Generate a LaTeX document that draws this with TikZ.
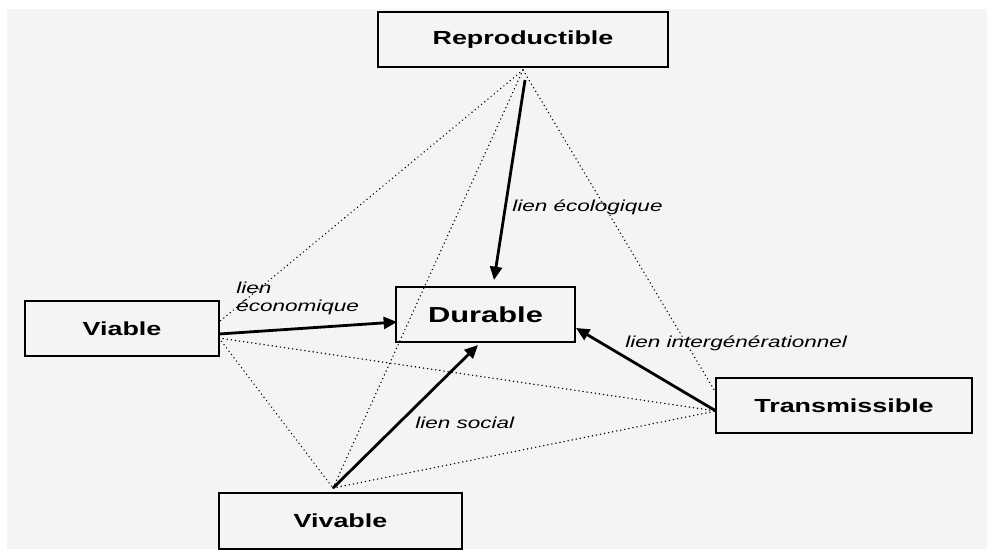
\documentclass[tikz,border=0pt]{standalone}
\usepackage{fontspec}
\newfontfamily\diafont[FakeStretch=1.42]{Liberation Sans}
\usetikzlibrary{arrows.meta}
\tikzset{
  box/.style={draw=black, line width=1.3pt, inner sep=0pt, font=\diafont\bfseries\fontsize{14.2}{16}\selectfont},
  bigbox/.style={draw=black, line width=2.2pt, inner sep=0pt, font=\diafont\bfseries\fontsize{16.3}{18}\selectfont},
  lnk/.style={line width=2.1pt, -{Triangle[length=10pt,width=9pt]}},
  dot/.style={line width=1.1pt, dash pattern=on 0.1pt off 3pt, line cap=round},
  lbl/.style={font=\diafont\itshape\fontsize{11.9}{13.5}\selectfont, inner sep=0pt}
}
\begin{document}
\begin{tikzpicture}[x=0.75pt, y=-0.75pt]
\fill[white] (0,0) rectangle (987,549);
\fill[gray!9] (7,9) rectangle (987,549);
\useasboundingbox (0,0) rectangle (987,549);

% boxes
\node[box, minimum width=217.5pt, minimum height=41.25pt] (rep) at (523,39.5) {Reproductible};
\node[bigbox, minimum width=134.25pt, minimum height=41.25pt] (dur) at (485.5,314.5) {Durable};
\node[box, minimum width=145.5pt, minimum height=41.25pt] (via) at (122,328.5) {Viable};
\node[box, minimum width=192pt, minimum height=41.25pt] (tra) at (844,405.5) {Transmissible};
\node[box, minimum width=182.25pt, minimum height=42pt] (viv) at (340.5,521) {Vivable};

% hub coordinates
\coordinate (rT) at (523,70);
\coordinate (rA) at (525,80);
\coordinate (dT) at (494,280);
\coordinate (vA) at (219,334);
\coordinate (vU) at (219,322);
\coordinate (vD) at (219,338);
\coordinate (dL) at (397,322);
\coordinate (wH) at (333,488);
\coordinate (dB) at (478,345);
\coordinate (tH) at (716,411);
\coordinate (tU) at (716,393);
\coordinate (dR) at (576,328);

% dotted links
\draw[dot] (rT) -- (vU);
\draw[dot] (rT) -- (wH);
\draw[dot] (rT) -- (tU);
\draw[dot] (vD) -- (tH);
\draw[dot] (vD) -- (wH);
\draw[dot] (wH) -- (tH);

% solid links
\draw[lnk] (rA) -- (dT);
\draw[lnk] (vA) -- (dL);
\draw[lnk] (wH) -- (dB);
\draw[lnk] (tH) -- (dR);

% labels
\node[lbl, anchor=west] (lecol) at (512,207) {lien écologique};
\node[lbl, anchor=west, align=left] (lecon) at (236,298) {lien\\économique};
\node[lbl, anchor=west] (linter) at (625,343) {lien intergénérationnel};
\node[lbl, anchor=west] (lsoc) at (415,423) {lien social};
\end{tikzpicture}
\end{document}
